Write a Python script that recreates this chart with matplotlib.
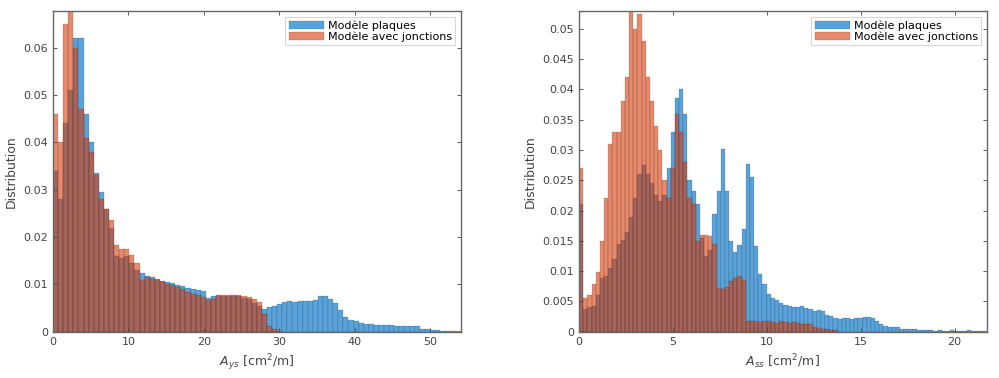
import numpy as np
import matplotlib
matplotlib.use("Agg")
import matplotlib.pyplot as plt
from matplotlib.ticker import FuncFormatter

# bin widths of the two histograms
bw_left = 0.675
bw_right = 0.222

# left panel, A_ys
left_plaques = [
    0.034, 0.028, 0.044, 0.051, 0.062, 0.062, 0.046, 0.040, 0.0335, 0.0295,
    0.026, 0.022, 0.016, 0.0155, 0.016, 0.0145, 0.013, 0.0125, 0.0118, 0.0116,
    0.0112, 0.0108, 0.0106, 0.0103, 0.0098, 0.0096, 0.0092, 0.0090, 0.0089, 0.0085,
    0.0072, 0.0075, 0.0077, 0.0076, 0.0075, 0.0077, 0.0075, 0.0072, 0.0070, 0.0060,
    0.0054, 0.0048, 0.0052, 0.0055, 0.0058, 0.0062, 0.0065, 0.0063, 0.0065, 0.0064,
    0.0065, 0.0066, 0.0076, 0.0075, 0.0068, 0.0060, 0.0046, 0.0030, 0.0024, 0.0022,
    0.0019, 0.0016, 0.0016, 0.0015, 0.0014, 0.0015, 0.0014, 0.0013, 0.0013, 0.0012,
    0.0012, 0.0011, 0.0006, 0.0005, 0.0004, 0.0003, 0.0002, 0.0002, 0.0002, 0.0001,
]
left_jonctions = [
    0.046, 0.040, 0.065, 0.0677, 0.060, 0.047, 0.041, 0.038, 0.033, 0.028,
    0.026, 0.0235, 0.0183, 0.0175, 0.0175, 0.0162, 0.0145, 0.011, 0.0115, 0.0112,
    0.0110, 0.0104, 0.0100, 0.0098, 0.0095, 0.0090, 0.0083, 0.0080, 0.0077, 0.0074,
    0.0066, 0.0068, 0.0076, 0.0077, 0.0077, 0.0076, 0.0077, 0.0075, 0.0074, 0.0068,
    0.0062, 0.0038, 0.0012, 0.0005, 0.0002,
]

# right panel, A_ss
right_plaques = [
    0.021, 0.0037, 0.0040, 0.0043, 0.006, 0.0088, 0.0092, 0.0105, 0.012, 0.0145,
    0.0152, 0.0165, 0.019, 0.022, 0.026, 0.0275, 0.026, 0.0245, 0.0225, 0.0215,
    0.0225, 0.027, 0.033, 0.0385, 0.040, 0.036, 0.025, 0.0232, 0.021, 0.0155,
    0.0125, 0.0135, 0.0195, 0.0232, 0.0302, 0.0232, 0.0149, 0.0132, 0.0143, 0.017,
    0.0277, 0.0255, 0.0141, 0.0096, 0.0079, 0.0062, 0.0056, 0.0052, 0.0047, 0.0044,
    0.0042, 0.0041, 0.0041, 0.0043, 0.0039, 0.0038, 0.0034, 0.0035, 0.0034, 0.0028,
    0.0026, 0.0022, 0.0021, 0.0022, 0.0022, 0.0021, 0.0022, 0.0023, 0.0024, 0.0024,
    0.0022, 0.0018, 0.0012, 0.0010, 0.0008, 0.0008, 0.0007, 0.0005, 0.0005, 0.0004,
    0.0004, 0.0003, 0.0002, 0.0002, 0.0002, 0.0001, 0.0002, 0.0001, 0.0001, 0.0002,
    0.0001, 0.0001, 0.0001, 0.0002, 0.0001, 0.0001, 0.0001, 0.0001,
]
right_jonctions = [
    0.027, 0.0055, 0.006, 0.0078, 0.0098, 0.015, 0.022, 0.031, 0.033, 0.033,
    0.038, 0.042, 0.053, 0.050, 0.0525, 0.048, 0.042, 0.038, 0.034, 0.030,
    0.025, 0.022, 0.027, 0.036, 0.033, 0.028, 0.022, 0.021, 0.015, 0.016,
    0.0159, 0.0158, 0.0145, 0.0072, 0.0070, 0.0074, 0.0083, 0.0088, 0.0092, 0.0085,
    0.0018, 0.0017, 0.0018, 0.0016, 0.0017, 0.0018, 0.0016, 0.0015, 0.0017, 0.0016,
    0.0015, 0.0016, 0.0014, 0.0013, 0.0013, 0.0012, 0.0008, 0.0006, 0.0005, 0.0004,
    0.0003, 0.0002,
]

labels = ["Modèle plaques", "Modèle avec jonctions"]
blue = "#5aa3da"
orange = "#d73c0a"
grey = "#444444"


def fmt(v, pos):
    return "0" if v == 0 else "%g" % v


def panel(ax, bw, plaques, jonctions, xlim, ylim, yticks, xticks, xlabel):
    xp = np.arange(len(plaques)) * bw
    xj = np.arange(len(jonctions)) * bw
    ax.bar(xp, plaques, width=bw, align="edge", color=blue,
           edgecolor=(0, 0, 0, 0.6), linewidth=0.15, label=labels[0])
    ax.bar(xj, jonctions, width=bw, align="edge", color=orange, alpha=0.6,
           edgecolor="black", linewidth=0.15, label=labels[1])
    ax.set_xlim(*xlim)
    ax.set_ylim(*ylim)
    ax.set_xticks(xticks)
    ax.set_yticks(yticks)
    ax.yaxis.set_major_formatter(FuncFormatter(fmt))
    ax.tick_params(direction="in", top=True, right=True, labelsize=8,
                   colors=grey, length=3, width=0.6)
    for s in ax.spines.values():
        s.set_color("#666666")
        s.set_linewidth(1.0)
    ax.set_ylabel("Distribution", fontsize=9, color=grey)
    ax.set_xlabel(xlabel, fontsize=9, color=grey)
    leg = ax.legend(loc="upper right", fontsize=8, frameon=True, fancybox=False,
                    borderpad=0.3, handlelength=3.2, handletextpad=0.3,
                    labelspacing=0.1, borderaxespad=0.5)
    leg.get_frame().set_edgecolor("#cccccc")
    leg.get_frame().set_linewidth(0.8)


fig = plt.figure(figsize=(9.99, 3.78), dpi=100)
ax1 = fig.add_axes([0.053, 0.1225, 0.408, 0.848])
ax2 = fig.add_axes([0.5796, 0.1225, 0.408, 0.848])

panel(ax1, bw_left, left_plaques, left_jonctions, (0, 54), (0, 0.0677),
      [0, 0.01, 0.02, 0.03, 0.04, 0.05, 0.06], [0, 10, 20, 30, 40, 50],
      r"$A_{ys}$ [cm$^2$/m]")
panel(ax2, bw_right, right_plaques, right_jonctions, (0, 21.7), (0, 0.0529),
      [0, 0.005, 0.01, 0.015, 0.02, 0.025, 0.03, 0.035, 0.04, 0.045, 0.05],
      [0, 5, 10, 15, 20], r"$A_{ss}$ [cm$^2$/m]")

fig.savefig("out.png", dpi=100)
